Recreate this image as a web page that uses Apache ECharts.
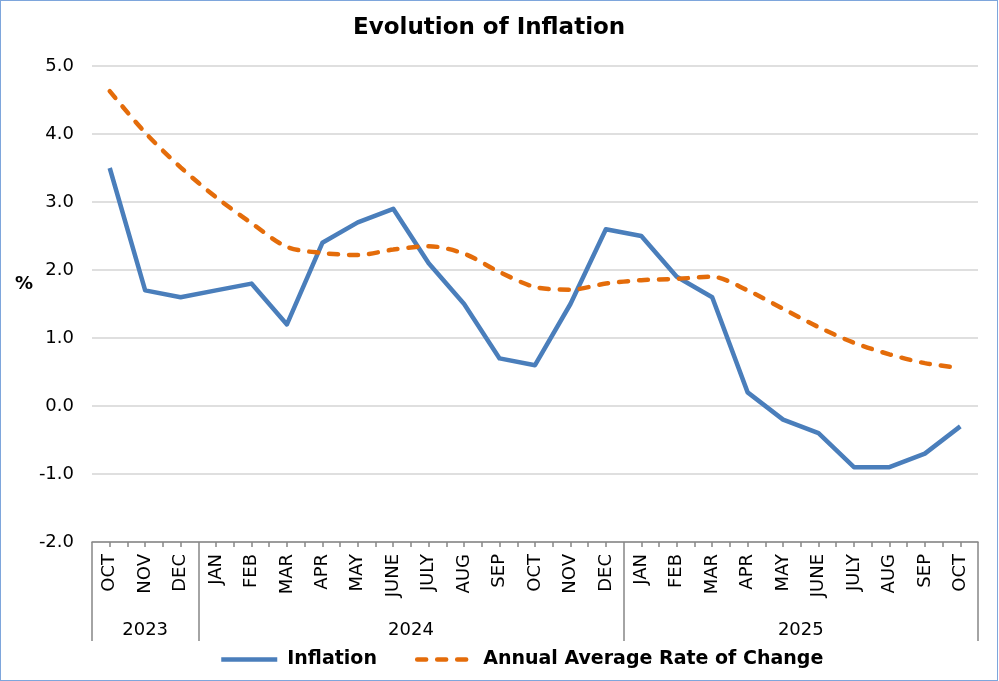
<!DOCTYPE html>
<html>
<head>
<meta charset="utf-8">
<script src="https://cdn.jsdelivr.net/npm/echarts@6/dist/echarts.min.js"></script>
<style>
html,body{margin:0;padding:0;background:#fff;}
#chart{position:absolute;left:0;top:0;width:999px;height:681px;}
#frame{position:absolute;left:0;top:0;width:998px;height:681px;box-sizing:border-box;border:1.5px solid #7ea6dc;pointer-events:none;}
</style>
</head>
<body>
<div id="chart"></div>
<div id="frame"></div>
<script>
const months = ['OCT','NOV','DEC','JAN','FEB','MAR','APR','MAY','JUNE','JULY','AUG','SEP','OCT','NOV','DEC','JAN','FEB','MAR','APR','MAY','JUNE','JULY','AUG','SEP','OCT'];
const years = ['2023','2024','2025'];
const monthsPerYear = [3,12,10];
const inflation = [3.5,1.7,1.6,1.7,1.8,1.2,2.4,2.7,2.9,2.1,1.5,0.7,0.6,1.5,2.6,2.5,1.9,1.6,0.2,-0.2,-0.4,-0.9,-0.9,-0.7,-0.3];
const annualAverage = [4.63,4.02,3.51,3.07,2.69,2.34,2.25,2.22,2.30,2.35,2.24,1.97,1.75,1.71,1.80,1.85,1.87,1.90,1.70,1.43,1.16,0.93,0.76,0.63,0.56];
const yTicks = {min:-2, max:5, interval:1};

const n = months.length;
const halfTicks = [];
for (let i = 1; i < 2*n; i++) halfTicks.push(i/2);
const bounds = [0]; const centers = []; const yearAt = {};
monthsPerYear.forEach((c,i)=>{ const s = bounds[bounds.length-1]; bounds.push(s+c); centers.push(s+c/2); yearAt[s+c/2] = years[i]; });

const FONT = '"DejaVu Sans", Verdana, sans-serif';
const chart = echarts.init(document.getElementById('chart'), null, {renderer:'canvas'});
chart.setOption({
  animation:false,
  backgroundColor:'#fff',
  title:{text:'Evolution of Inflation', left:353, top:17, padding:0, textStyle:{fontFamily:FONT, fontSize:23, fontWeight:'bold', color:'#000'}},
  legend:{left:219, top:650, padding:0, itemWidth:56, itemHeight:14, itemGap:38,
    itemStyle:{opacity:0},
    lineStyle:{width:4.5},
    textStyle:{fontFamily:FONT, fontSize:19, fontWeight:'bold', color:'#000', padding:[0,0,0,5]},
    data:['Inflation','Annual Average Rate of Change']},
  grid:{left:92, right:21, top:66, bottom:139},
  xAxis:[
    {type:'category', data:months, boundaryGap:true, position:'bottom',
     axisLine:{show:false}, axisTick:{show:false},
     axisLabel:{rotate:90, margin:12, interval:0, fontFamily:FONT, fontSize:18, color:'#000'}},
    {type:'value', min:0, max:n, position:'bottom',
     axisLine:{show:true, lineStyle:{color:'#868686', width:1.5}},
     axisTick:{show:true, customValues:halfTicks, length:5, lineStyle:{color:'#868686', width:1.5}},
     axisLabel:{show:false}, splitLine:{show:false}},
    {type:'value', min:0, max:n, position:'bottom',
     axisLine:{show:false},
     axisTick:{show:true, customValues:bounds, length:99, lineStyle:{color:'#868686', width:1.5}},
     axisLabel:{show:true, customValues:centers, formatter:(v)=>yearAt[v]||'', margin:79, fontFamily:FONT, fontSize:18, color:'#000'},
     splitLine:{show:false}}
  ],
  yAxis:{type:'value', min:yTicks.min, max:yTicks.max, interval:yTicks.interval,
    name:'%\n \n ', nameLocation:'middle', nameRotate:0, nameGap:57,
    nameTextStyle:{fontFamily:FONT, fontSize:18, lineHeight:20, fontWeight:'bold', color:'#000'},
    axisLine:{show:false}, axisTick:{show:false},
    axisLabel:{margin:18, fontFamily:FONT, fontSize:18, color:'#000', formatter:(v)=>v.toFixed(1)},
    splitLine:{lineStyle:{color:'#d4d4d4', width:1.5}}},
  series:[
    {name:'Inflation', type:'line', xAxisIndex:0, data:inflation, symbol:'none',
     lineStyle:{color:'#4a7ebb', width:4.5, join:'round'}, itemStyle:{color:'#4a7ebb'}},
    {name:'Annual Average Rate of Change', type:'line', xAxisIndex:0, data:annualAverage, symbol:'none', smooth:0.3,
     lineStyle:{color:'#e46c0a', width:4.5, type:[9,11], cap:'round'}, itemStyle:{color:'#e46c0a'}}
  ]
});
</script>
</body>
</html>
